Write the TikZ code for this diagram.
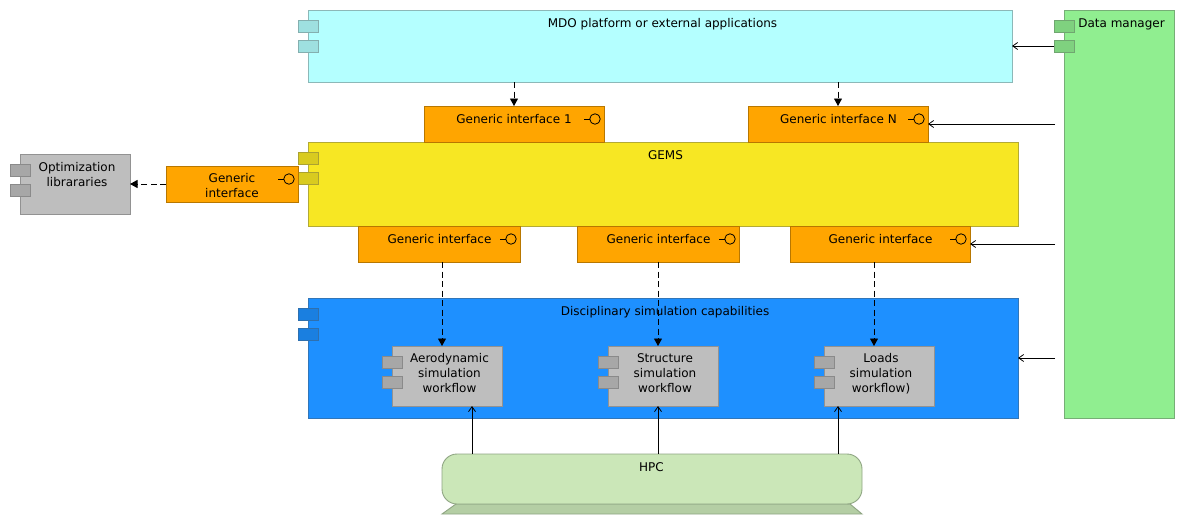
\documentclass[tikz,border=0pt]{standalone}
\usepackage{fontspec}
\setmainfont{DejaVu Sans}
\usetikzlibrary{arrows.meta}
\usepackage{xcolor}
\definecolor{mdocol}{HTML}{B4FFFF}
\definecolor{gemscol}{HTML}{F7E723}
\definecolor{ifacecol}{HTML}{FFA500}
\definecolor{disccol}{HTML}{1E90FF}
\definecolor{dmcol}{HTML}{90EE90}
\definecolor{wfcol}{HTML}{BEBEBE}
\definecolor{hpccol}{HTML}{CBE7B8}
\definecolor{hpcbase}{HTML}{B4CEA4}
\definecolor{hpcline}{HTML}{8FA583}
\tikzset{
  box/.style={draw=#1!70!gray!85!black,fill=#1,line width=.9pt,anchor=north west,inner sep=0pt,outer sep=0pt},
  tabbox/.style={draw=#1!72!gray!80!black,fill=#1!88!black,line width=.9pt,minimum width=20pt,minimum height=12pt,inner sep=0pt,outer sep=0pt},
  iface/.style={draw=ifacecol!72!black,fill=ifacecol,line width=.9pt,anchor=north west,inner sep=0pt,outer sep=0pt,minimum height=36pt},
  lolly/.style={circle,draw=black,line width=.8pt,minimum size=10.5pt,inner sep=0pt,outer sep=0pt},
  txt/.style={inner sep=0pt,font=\fontsize{12}{15}\selectfont,anchor=base},
  txtm/.style={inner sep=0pt,align=center,font=\fontsize{12}{15}\selectfont},
  dep/.style={-{Triangle[length=7.5pt,width=8pt]},line width=.8pt,dash pattern=on 6pt off 3.5pt},
  use/.style={-{Straight Barb[length=5pt,width=7pt]},line width=.8pt},
}
\newcommand{\comptabs}[2]{%
  \node[tabbox=#2] (#1-a) at ([yshift=-16pt]#1.north west) {};
  \node[tabbox=#2] (#1-b) at ([yshift=-36pt]#1.north west) {};
}
\newcommand{\lollipop}[1]{%
  \node[lolly] (#1-l) at ([xshift=-9pt,yshift=-13pt]#1.north east) {};
  \draw[line width=.8pt] (#1-l.west) -- ++(-6pt,0);
}
\begin{document}
\begin{tikzpicture}[x=1pt,y=-1pt]
\useasboundingbox (0,0) rectangle (1185,525);
% main blocks
\node[box=mdocol,minimum width=704pt,minimum height=72pt] (mdo) at (308,10) {};
\comptabs{mdo}{mdocol}
\node[box=gemscol,minimum width=710pt,minimum height=84pt] (gems) at (308,142) {};
\comptabs{gems}{gemscol}
\node[box=disccol,minimum width=710pt,minimum height=120pt] (disc) at (308,298) {};
\comptabs{disc}{disccol}
\node[box=dmcol,minimum width=110pt,minimum height=408pt] (dm) at (1064,10) {};
\comptabs{dm}{dmcol}
\node[box=wfcol,minimum width=110pt,minimum height=60pt] (opt) at (20,154) {};
\comptabs{opt}{wfcol}
% workflows
\node[box=wfcol,minimum width=110pt,minimum height=60pt] (aero) at (392,346) {};
\comptabs{aero}{wfcol}
\node[box=wfcol,minimum width=110pt,minimum height=60pt] (struct) at (608,346) {};
\comptabs{struct}{wfcol}
\node[box=wfcol,minimum width=110pt,minimum height=60pt] (loads) at (824,346) {};
\comptabs{loads}{wfcol}
% interfaces
\node[iface,minimum width=180pt] (gi1) at (424,106) {};
\node[iface,minimum width=180pt] (giN) at (748,106) {};
\node[iface,minimum width=132pt] (giopt) at (166,166) {};
\node[iface,minimum width=162pt] (giaero) at (358,226) {};
\node[iface,minimum width=162pt] (gistruct) at (577,226) {};
\node[iface,minimum width=180pt] (giloads) at (790,226) {};
\foreach \n in {gi1,giN,giopt,giaero,gistruct,giloads} {\lollipop{\n}}
% hpc
\fill[hpcbase,draw=hpcline,line width=.9pt] (442,514)--(456,504)--(850,504)--(862,514)-- cycle;
\node[box=hpccol,draw=hpcline,rounded corners=15pt,minimum width=420pt,minimum height=50pt] (hpc) at (442,454) {};
% texts
\node[txt] (mdotxt) at (662.5,27) {MDO platform or external applications};
\node[txt] (gemstxt) at (665.5,159) {GEMS};
\node[txt] (disctxt) at (665,315) {Disciplinary simulation capabilities};
\node[txt] (dmtxt) at (1121.5,27) {Data manager};
\node[txtm] (opttxt) at (77,174.5) {Optimization\\librararies};
\node[txtm] (aerotxt) at (449.5,373.5) {Aerodynamic\\simulation\\workflow};
\node[txtm] (structtxt) at (665,373.5) {Structure\\simulation\\workflow};
\node[txtm] (loadstxt) at (881,373.5) {Loads\\simulation\\workflow)};
\node[txt] (gi1txt) at (514,123) {Generic interface 1};
\node[txt] (giNtxt) at (838.5,123) {Generic interface N};
\node[txtm] (gibtxt) at (232,186) {Generic\\interface};
\node[txt] (giatxt) at (439.5,243) {Generic interface};
\node[txt] (gistxt) at (658.5,243) {Generic interface};
\node[txt] (giltxt) at (880.5,243) {Generic interface};
\node[txt] (hpctxt) at (651.5,471) {HPC};
% free ends on the data manager side
\coordinate (dmN) at (1055,124);
\coordinate (dml) at (1055,244);
\coordinate (dmd) at (1055,358);
% connectors
\draw[dep] (mdo.south -| gi1.north) -- (gi1.north);
\draw[dep] (mdo.south -| giN.north) -- (giN.north);
\draw[dep] (giopt.west |- opt.east) -- (opt.east);
\draw[dep] (442,262) -- (442,346);
\draw[dep] (gistruct.south) -- (gistruct.south |- struct.north);
\draw[dep] (874,262) -- (874,346);
\draw[use] (dm-b.west) -- (mdo.east |- dm-b);
\draw[use] (dmN) -- (giN.east |- dmN);
\draw[use] (dml) -- (giloads.east |- dml);
\draw[use] (dmd) -- (disc.east |- dmd);
\draw[use] (472,454) -- (472,406);
\draw[use] (658,454) -- (658,406);
\draw[use] (838,454) -- (838,406);
\end{tikzpicture}
\end{document}
